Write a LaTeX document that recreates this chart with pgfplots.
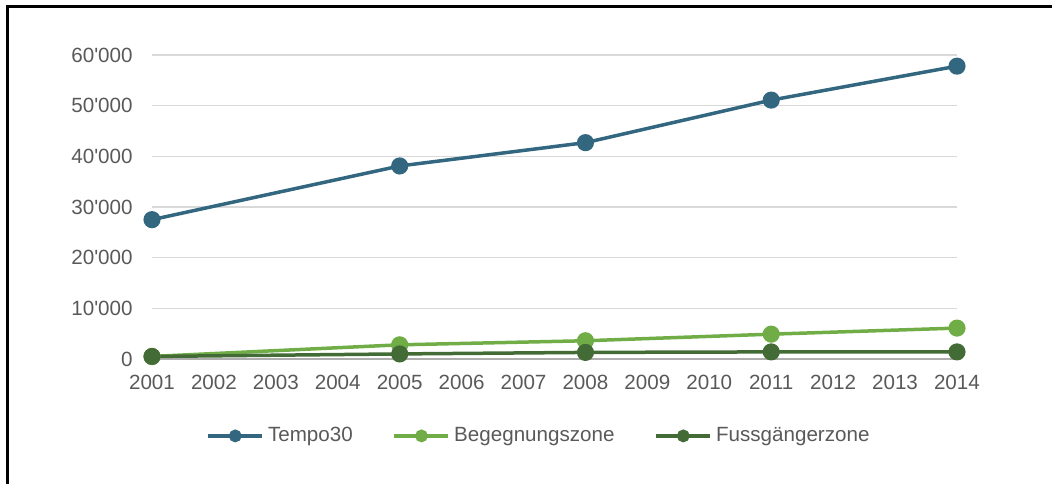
\documentclass[border=0pt]{standalone}
\usepackage{pgfplots}
\pgfplotsset{compat=1.18}
\usepackage{fontspec}
\setmainfont{Liberation Sans}
\definecolor{tempo}{HTML}{33667F}
\definecolor{begeg}{HTML}{70AD47}
\definecolor{fuss}{HTML}{436B35}
\definecolor{labelgray}{HTML}{595959}
\definecolor{gridgray}{HTML}{D9D9D9}
\begin{document}
\begin{tikzpicture}
\useasboundingbox (0,0) rectangle (526bp,242bp);
% frame (left and top only)
\draw[line width=1.5bp] (3.5bp,0) -- (3.5bp,238.5bp) -- (526bp,238.5bp);
\begin{axis}[
    at={(76bp,62.5bp)}, anchor=south west,
    scale only axis,
    width=402.5bp, height=152bp,
    xmin=2001, xmax=2014,
    ymin=0, ymax=60000,
    xtick={2001,2002,...,2014},
    ytick={0,10000,...,60000},
    scaled y ticks=false,
    yticklabels={0,10\textquotesingle000,20\textquotesingle000,30\textquotesingle000,40\textquotesingle000,50\textquotesingle000,60\textquotesingle000},
    xticklabel={\pgfmathprintnumber[1000 sep={}]{\tick}},
    /pgf/number format/assume math mode=true,
    major tick length=0pt,
    axis x line=bottom, axis y line=left,
    x axis line style={draw=gridgray!80!black, line width=0.7bp, -},
    y axis line style={draw=none},
    ymajorgrids,
    grid style={gridgray, line width=0.7bp},
    tick label style={font=\fontsize{10.3bp}{12bp}\selectfont, text=labelgray, inner sep=0pt},
    yticklabel style={anchor=east, xshift=-9.5bp},
    xticklabel style={anchor=north, yshift=-8bp},
    clip=false,
    every axis plot/.append style={line width=1.75bp, mark=*, mark size=3.4bp},
    legend columns=3,
    legend style={at={(0.482,-0.253)}, anchor=center, draw=none, fill=none,
        font=\fontsize{10.3bp}{12bp}\selectfont, text=labelgray, inner sep=0pt,
        /tikz/every even column/.append style={column sep=18bp}},
    legend image code/.code={\draw[#1, mark size=2.3bp, mark repeat=2, mark phase=2]
        plot coordinates {(0bp,0bp) (13.5bp,0bp) (27bp,0bp)};},
]
\addplot[color=tempo, mark options={fill=tempo}] coordinates {
    (2001,27500) (2005,38100) (2008,42700) (2011,51100) (2014,57800)};
\addlegendentry{Tempo30}
\addplot[color=begeg, mark options={fill=begeg}] coordinates {
    (2001,500) (2005,2800) (2008,3600) (2011,4900) (2014,6100)};
\addlegendentry{Begegnungszone}
\addplot[color=fuss, mark options={fill=fuss}] coordinates {
    (2001,500) (2005,1000) (2008,1300) (2011,1400) (2014,1400)};
\addlegendentry{Fussgängerzone}
\end{axis}
\end{tikzpicture}
\end{document}
